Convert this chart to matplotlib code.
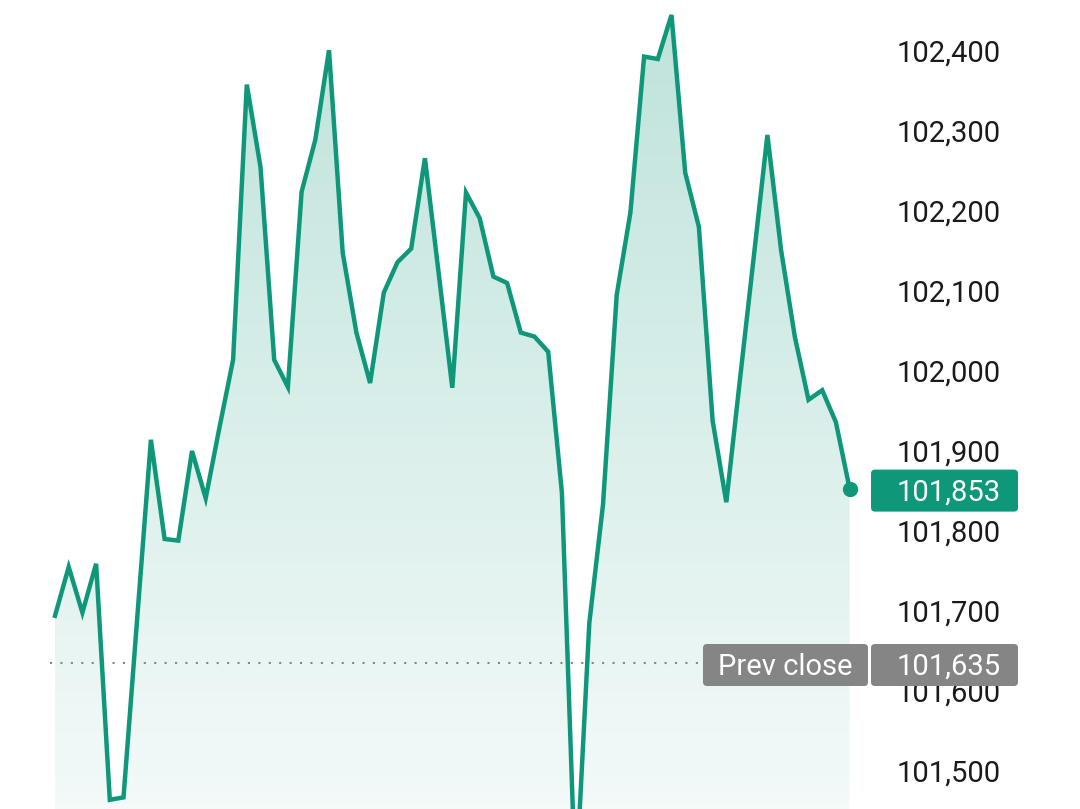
import numpy as np
import matplotlib
matplotlib.use("Agg")
import matplotlib.pyplot as plt
from matplotlib.patches import FancyBboxPatch
from matplotlib.colors import to_rgb
from matplotlib.transforms import offset_copy

plt.rcParams['font.family'] = ['Roboto', 'DejaVu Sans']

# intraday prices, one point per interval
prices = [
    101694, 101755, 101698, 101759, 101464, 101467, 101691, 101914, 101790, 101788,
    101900, 101841, 101929, 102014, 102358, 102255, 102014, 101980, 102224, 102289,
    102401, 102148, 102048, 101985, 102098, 102136, 102153, 102266, 102123, 101979,
    102223, 102191, 102118, 102110, 102048, 102043, 102024, 101848, 101351, 101685,
    101833, 102095, 102198, 102393, 102390, 102445, 102248, 102180, 101938, 101836,
    101990, 102142, 102295, 102151, 102043, 101964, 101976, 101936, 101853,
]
prev_close = 101635
last_price = 101853
tick_values = [101500, 101600, 101700, 101800, 101900, 102000, 102100, 102200, 102300, 102400]
tick_labels = [f"{v:,}" for v in tick_values]

green = '#0f977a'
grey = '#858585'

W, H = 1080, 809
fig = plt.figure(figsize=(W / 100, H / 100), dpi=100)
ax = fig.add_axes([0, 0, 1, 1])
ax.axis('off')

# pixel layout: first point at x=55, step 13.7 px; 100 pts = 80 px
step = 13.7
ybot = 102400 - 1.25 * (H - 51)
ytop = 102400 + 1.25 * 51

x = np.arange(len(prices))
y = np.array(prices)

# gradient fill under the line
poly = ax.fill_between(x, y, ybot, color='none', lw=0)
r, g, b = to_rgb(green)
n = 256
grad = np.zeros((n, 1, 4))
grad[:, 0, 0] = r
grad[:, 0, 1] = g
grad[:, 0, 2] = b
grad[:, 0, 3] = np.linspace(0.27, 0.05, n)
im = ax.imshow(grad, aspect='auto', extent=[0, x[-1], ybot, y.max()],
               origin='upper', zorder=1, interpolation='bilinear')
im.set_clip_path(poly.get_paths()[0], transform=ax.transData)
ax.set_xlim(-55 / step, (W - 55) / step)
ax.set_ylim(ybot, ytop)

ax.plot(x, y, color=green, lw=3.2, solid_joinstyle='miter', zorder=3)
ax.plot(x[-1], y[-1], 'o', color=green, ms=10, zorder=4)

# prev close dotted line
x_end = (703 - 55) / step
ax.plot([-5 / step, x_end], [prev_close, prev_close], color=grey,
        lw=1.5, linestyle=(0, (1, 4)), zorder=2)

# right-side price labels (nudged down a few px to sit on the tick value)
lab_tr = offset_copy(ax.get_yaxis_transform(), fig=fig, y=-3, units='dots')
for v, lab in zip(tick_values, tick_labels):
    ax.text(1001 / W, v, lab, transform=lab_tr,
            ha='right', va='center', fontsize=21, color='#1b1b1b', zorder=2)


def px_box(x0, x1, value, color):
    yc = ax.transData.transform((0, value))[1] / 100 - 0.02
    h = 0.42
    box = FancyBboxPatch((x0 / 100, yc - h / 2), (x1 - x0) / 100, h,
                         boxstyle='round,pad=0,rounding_size=0.04',
                         transform=fig.dpi_scale_trans, facecolor=color,
                         edgecolor='none', zorder=5)
    ax.add_patch(box)
    return yc - 0.02


yc = px_box(871, 1018, last_price, green)
ax.text(1001 / 100, yc, f"{last_price:,}", transform=fig.dpi_scale_trans,
        ha='right', va='center', fontsize=21, color='white', zorder=6)

yc = px_box(703, 868, prev_close, grey)
ax.text(785.5 / 100, yc, "Prev close", transform=fig.dpi_scale_trans,
        ha='center', va='center', fontsize=21, color='white', zorder=6)
px_box(871, 1018, prev_close, grey)
ax.text(1001 / 100, yc, f"{prev_close:,}", transform=fig.dpi_scale_trans,
        ha='right', va='center', fontsize=21, color='white', zorder=6)

fig.savefig('out.png', dpi=100)
